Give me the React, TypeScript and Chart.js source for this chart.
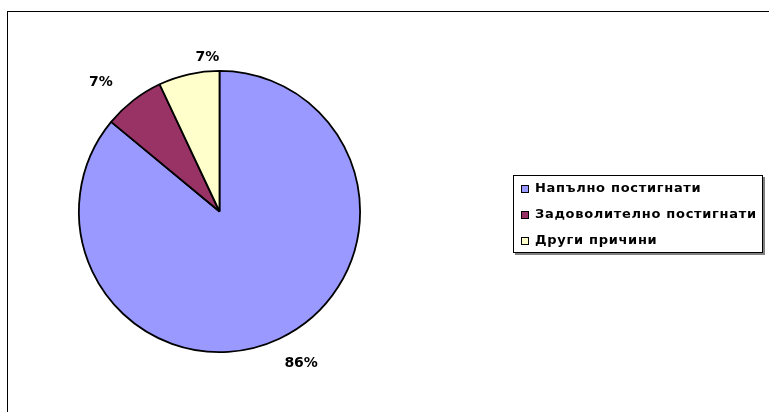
import React, { useEffect, useRef } from "react";
import { Chart, registerables } from "chart.js";

Chart.register(...registerables);

const categories = ["Напълно постигнати", "Задоволително постигнати", "Други причини"];
const values = [86, 7, 7];
const valueLabels = ["86%", "7%", "7%"];
const colors = ["#9999FF", "#993366", "#FFFFCC"];

const FONT = "DejaVu Sans, Verdana, sans-serif";

// small placement nudges for outside labels (Excel-like placement)
const labelNudge = [
  [9, -3],
  [-14, 6],
  [25, 12],
];

const labelPlugin = {
  id: "outerLabels",
  afterDatasetsDraw(chart: any) {
    const ctx = chart.ctx;
    const meta = chart.getDatasetMeta(0);
    ctx.save();
    ctx.font = `bold 14px ${FONT}`;
    ctx.fillStyle = "#000";
    ctx.textAlign = "center";
    ctx.textBaseline = "middle";
    meta.data.forEach((arc: any, i: number) => {
      const p = arc.getProps(["x", "y", "startAngle", "endAngle", "outerRadius"], true);
      const mid = (p.startAngle + p.endAngle) / 2;
      const d = p.outerRadius + 30;
      const n = labelNudge[i] || [0, 0];
      ctx.fillText(valueLabels[i], p.x + Math.cos(mid) * d + n[0], p.y + Math.sin(mid) * d + n[1]);
    });
    ctx.restore();
  },
};

const legendPlugin = {
  id: "boxLegend",
  afterDraw(chart: any) {
    const ctx = chart.ctx;
    const bx = 513, by = 175, bw = 250, bh = 78;
    ctx.save();
    ctx.fillStyle = "#808080";
    ctx.fillRect(bx + 2, by + 2, bw, bh);
    ctx.fillStyle = "#fff";
    ctx.fillRect(bx, by, bw, bh);
    ctx.strokeStyle = "#000";
    ctx.lineWidth = 1;
    ctx.strokeRect(bx + 0.5, by + 0.5, bw - 1, bh - 1);
    ctx.font = `bold 13px ${FONT}`;
    (ctx as any).letterSpacing = "0.7px";
    ctx.textBaseline = "middle";
    ctx.textAlign = "left";
    categories.forEach((c, i) => {
      const y = by + 14 + i * 26;
      ctx.fillStyle = colors[i];
      ctx.fillRect(bx + 8, y - 4, 8, 8);
      ctx.strokeStyle = "#000";
      ctx.strokeRect(bx + 8.5, y - 3.5, 7, 7);
      ctx.fillStyle = "#000";
      ctx.fillText(c, bx + 22, y);
    });
    ctx.restore();
  },
};

export default function App() {
  const ref = useRef<HTMLCanvasElement | null>(null);
  useEffect(() => {
    if (!ref.current) return;
    const chart = new Chart(ref.current, {
      type: "pie",
      data: {
        labels: categories,
        datasets: [
          {
            data: values,
            backgroundColor: colors,
            borderColor: "#000",
            borderWidth: 1.8,
          },
        ],
      },
      options: {
        responsive: false,
        animation: false,
        layout: { padding: { left: 78, right: 408, top: 70, bottom: 59 } },
        plugins: { legend: { display: false }, tooltip: { enabled: false } },
      },
      plugins: [labelPlugin, legendPlugin],
    });
    return () => chart.destroy();
  }, []);
  return (
    <div style={{ position: "fixed", left: 0, top: 0, width: 769, height: 412, background: "#fff", overflow: "hidden" }}>
      <div
        style={{
          position: "absolute",
          left: 7,
          top: 11,
          width: 800,
          height: 500,
          border: "1px solid #000",
          boxSizing: "border-box",
        }}
      />
      <canvas ref={ref} width={769} height={412} style={{ position: "absolute", left: 0, top: 0 }} />
    </div>
  );
}
